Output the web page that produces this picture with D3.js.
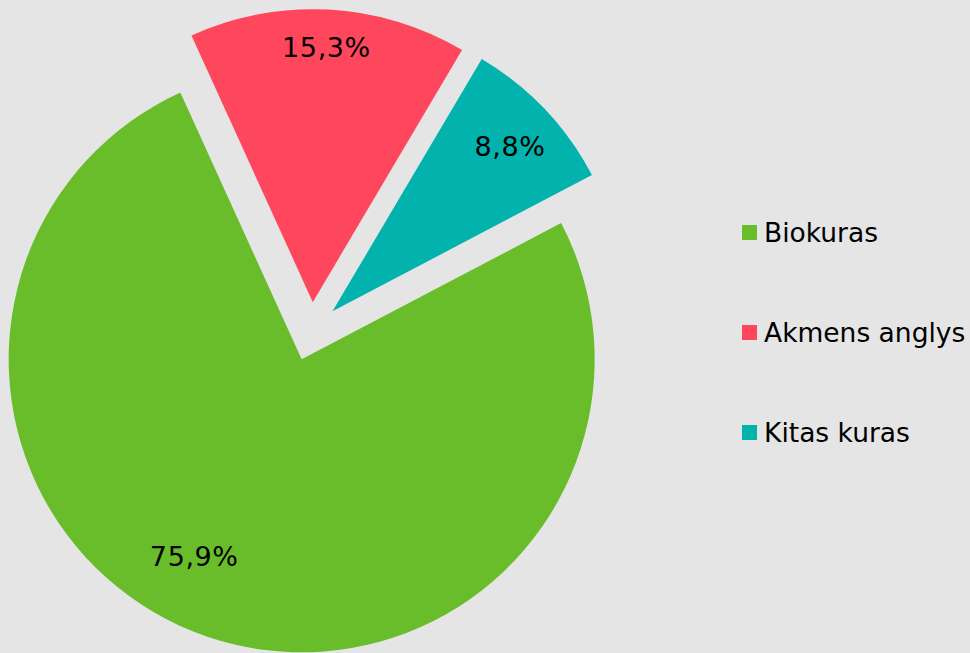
<!DOCTYPE html>
<html lang="lt">
<head>
<meta charset="utf-8">
<title>Kuro struktūra</title>
<script src="https://cdn.jsdelivr.net/npm/d3@7"></script>
<style>
  html, body { margin: 0; padding: 0; background: #e5e5e5; }
  svg { display: block; font-family: "DejaVu Sans", Verdana, sans-serif; }
</style>
</head>
<body>
<script>
// duomenys
var categories = ["Biokuras", "Akmens anglys", "Kitas kuras"];
var values = [75.9, 15.3, 8.8];
var colors = ["#69bd2b", "#fe465c", "#01b2ad"];

var width = 970, height = 653,
    cx = 311.2, cy = 331.5,
    radius = 293,
    explode = 29.4;

// kur dedami procentai (atstumas nuo sektoriaus viršūnės, kampo pataisa laipsniais)
var labelDist = [225, 255, 242],
    labelShift = [9.6, 0, 0.7];

var fmt = d3.formatLocale({decimal: ",", thousands: " ", grouping: [3], currency: ["", "€"]}).format(".1f");

var svg = d3.select("body").append("svg")
    .attr("width", width)
    .attr("height", height);

var pie = d3.pie()
    .sort(null)
    .startAngle(62.3 * Math.PI / 180)
    .endAngle((62.3 + 360) * Math.PI / 180);

var arc = d3.arc().innerRadius(0).outerRadius(radius);

var arcs = pie(values);

var g = svg.append("g").attr("transform", "translate(" + cx + "," + cy + ")");

var slice = g.selectAll("g.slice")
    .data(arcs)
  .enter().append("g")
    .attr("class", "slice")
    .attr("transform", function(d) {
      var a = (d.startAngle + d.endAngle) / 2;
      return "translate(" + explode * Math.sin(a) + "," + -explode * Math.cos(a) + ")";
    });

slice.append("path")
    .attr("d", arc)
    .attr("fill", function(d, i) { return colors[i]; });

slice.append("text")
    .attr("x", function(d, i) {
      var a = (d.startAngle + d.endAngle) / 2 + labelShift[i] * Math.PI / 180;
      return labelDist[i] * Math.sin(a);
    })
    .attr("y", function(d, i) {
      var a = (d.startAngle + d.endAngle) / 2 + labelShift[i] * Math.PI / 180;
      return -labelDist[i] * Math.cos(a);
    })
    .attr("text-anchor", "middle")
    .attr("dominant-baseline", "central")
    .attr("font-size", 27)
    .attr("letter-spacing", 0.6)
    .attr("fill", "#000")
    .text(function(d) { return fmt(d.data) + "%"; });

// legenda
var legend = svg.append("g").attr("transform", "translate(742,225)");

var item = legend.selectAll("g")
    .data(categories)
  .enter().append("g")
    .attr("transform", function(d, i) { return "translate(0," + i * 100 + ")"; });

item.append("rect")
    .attr("width", 15)
    .attr("height", 15)
    .attr("fill", function(d, i) { return colors[i]; });

item.append("text")
    .attr("x", 22)
    .attr("y", 17)
    .attr("font-size", 26.5)
    .attr("fill", "#000")
    .text(function(d) { return d; });
</script>
</body>
</html>
